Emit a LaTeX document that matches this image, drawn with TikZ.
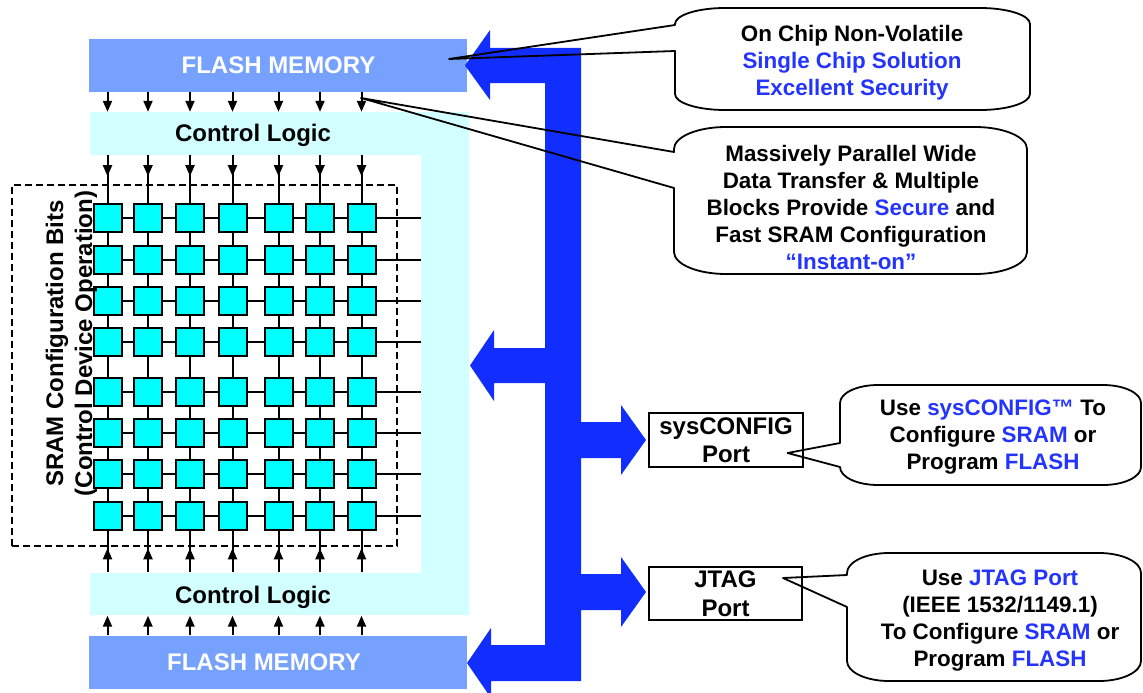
\documentclass[tikz,border=0pt]{standalone}
\usepackage{fontspec}
\setmainfont{Liberation Sans}
\usetikzlibrary{arrows.meta}
\definecolor{flashblue}{RGB}{118,161,255}
\definecolor{ctrlcyan}{RGB}{210,255,255}
\definecolor{cellcyan}{RGB}{0,255,255}
\definecolor{busblue}{RGB}{18,46,255}
\definecolor{hiblue}{RGB}{36,52,255}
\newcommand\hl[1]{\textcolor{hiblue}{#1}}
% speech bubble with elliptical corners and a pointer on its left side
% #1 x0, #2 y0, #3 x1, #4 y1, #5 corner x radius, #6 corner y radius,
% #7/#8 upper/lower pointer base on the left edge, #9 pointer tip
\newcommand\speechbubble[9]{%
  \draw[bubble] (#1,#7) -- (#1,{#2+#6})
    .. controls (#1,{#2+0.4477*#6}) and ({#1+0.4477*#5},#2) .. ({#1+#5},#2)
    -- ({#3-#5},#2)
    .. controls ({#3-0.4477*#5},#2) and (#3,{#2+0.4477*#6}) .. (#3,{#2+#6})
    -- (#3,{#4-#6})
    .. controls (#3,{#4-0.4477*#6}) and ({#3-0.4477*#5},#4) .. ({#3-#5},#4)
    -- ({#1+#5},#4)
    .. controls ({#1+0.4477*#5},#4) and (#1,{#4-0.4477*#6}) .. (#1,{#4-#6})
    -- (#1,#8) -- (#9) -- cycle;}
\begin{document}
\begin{tikzpicture}[x=1pt, y=-1pt,
  wire/.style={line width=2pt},
  arr/.style={line width=2pt, -{Triangle[length=11pt,width=9pt]}},
  cell/.style={draw, line width=2pt, fill=cellcyan, minimum size=28pt, inner sep=0pt},
  flashbox/.style={fill=flashblue, minimum width=378pt, minimum height=53pt, inner sep=0pt},
  bar/.style={minimum width=379pt, minimum height=43pt, inner sep=0pt},
  big/.style={font=\fontsize{24}{28.5}\selectfont\bfseries, inner sep=0pt, align=center},
  ctext/.style={font=\fontsize{22.4}{27}\selectfont\bfseries, inner sep=0pt, align=center},
  port/.style={draw, fill=white, line width=1.8pt, big},
  bubble/.style={draw, line width=1.8pt, line join=round},
  dashbox/.style={draw, dash pattern=on 7pt off 4pt, line width=1.8pt,
    minimum width=385pt, minimum height=361pt, inner sep=0pt}
]
\useasboundingbox (0,0) rectangle (1143,693);

% control logic band: top bar, right column, bottom bar
\fill[ctrlcyan] (90,112) -- (469,112) -- (469,615) -- (90,615) -- (90,573)
  -- (421,573) -- (421,155) -- (90,155) -- cycle;
\node[bar] (clT) at (279.5,133.5) {};
\node[bar] (clB) at (279.5,594) {};
\node[big] (clTtext) at (253,135.5) {Control Logic};
\node[big] (clBtext) at (253,597.5) {Control Logic};
\coordinate (spineL) at (421,0);

% flash memory blocks
\node[flashbox] (flashT) at (278,65.5) {};
\node[flashbox] (flashB) at (278,662) {};
\node[big, text=white] (flashTtext) at (278.5,65.7) {FLASH MEMORY};
\node[big, text=white] (flashBtext) at (264,662.5) {FLASH MEMORY};

% grid positions
\foreach \x [count=\k] in {107.5,148,190,232.5,278.5,320,361.5}
  \coordinate (col\k) at (\x,0);
\foreach \y [count=\r] in {218,259.5,301,342,392,433,474,516}
  \coordinate (row\r) at (0,\y);

% wiring behind the cells
\foreach \k in {1,...,7}
  \draw[wire] (col\k |- row1) -- (col\k |- row8);
\foreach \r in {1,...,8}
  \draw[wire] (col1 |- row\r) -- (spineL |- row\r);

% SRAM configuration cells
\foreach \r in {1,...,8}
  \foreach \k in {1,...,7}
    \node[cell] (c-\r-\k) at (col\k |- row\r) {};

% data paths flash -> control logic -> cells
\foreach \k in {1,...,7} {
  \draw[arr] (flashT.south -| col\k) -- (clT.north -| col\k);
  \draw[arr] (clT.south -| col\k) -- ++(0,21);
  \draw[wire] ([yshift=30pt]c-1-\k.north) -- (c-1-\k.north);
  \draw[wire] (clB.north -| col\k) -- ++(0,-21);
  \draw[arr] (clB.north -| col\k) -- ++(0,-24);
  \draw[wire] ([yshift=-20pt]c-8-\k.south) -- (c-8-\k.south);
  \draw[arr] (flashB.north -| col\k) -- (clB.south -| col\k);
}

% SRAM boundary and its label
\node[dashbox] (sram) at (204.5,365.5) {};
\node[big, rotate=90, anchor=base] (sramA) at (63,343.5) {SRAM Configuration Bits};
\node[big, rotate=90, anchor=base] (sramB) at (92,343.5) {(Control Device Operation)};

% configuration bus
\fill[busblue] (581,48) -- (581,422) -- (621,422) -- (621,405) -- (646,440)
  -- (621,475) -- (621,458) -- (581,458) -- (581,574) -- (621,574) -- (621,557)
  -- (646,592) -- (621,627) -- (621,610) -- (581,610) -- (581,681) -- (491,681)
  -- (491,698) -- (467,663) -- (491,628) -- (491,645) -- (545,645) -- (545,383)
  -- (494,383) -- (494,401) -- (470,365.5) -- (494,330) -- (494,348) -- (545,348)
  -- (545,83) -- (490,83) -- (490,100) -- (465,65.5) -- (490,30) -- (490,48) -- cycle;

% ports
\node[port, minimum width=154pt, minimum height=54pt] (sys) at (726,440) {sysCONFIG\\Port};
\node[port, minimum width=153pt, minimum height=53pt] (jtag) at (725.5,593.5) {JTAG\\Port};

% callouts
\coordinate (tip1) at (449,59);
\speechbubble{675}{8}{1030}{110}{50}{16}{25}{51}{tip1}
\node[ctext] (t1) at (852,62.5) {On Chip Non-Volatile\\\hl{Single Chip Solution}\\\hl{Excellent Security}};

\coordinate (tip2) at (361,98);
\speechbubble{674}{127}{1027}{274}{52}{22}{152}{188}{tip2}
\node[ctext] (t2) at (851,207.5) {Massively Parallel Wide\\Data Transfer \& Multiple\\Blocks Provide \hl{Secure} and\\Fast SRAM Configuration\\\hl{“Instant-on”}};

\coordinate (tip3) at (787.5,453);
\speechbubble{840}{385}{1141}{485}{38}{18}{443}{467}{tip3}
\node[ctext] (t3) at (993,437.5) {Use \hl{sysCONFIG™} To\\Configure \hl{SRAM} or\\Program \hl{FLASH}};

\coordinate (tip4) at (783,578);
\speechbubble{847}{553}{1141}{681}{42}{20}{575}{607}{tip4}
\node[ctext] (t4) at (1000,621) {Use \hl{JTAG Port}\\(IEEE 1532/1149.1)\\To Configure \hl{SRAM} or\\Program \hl{FLASH}};
\end{tikzpicture}
\end{document}
